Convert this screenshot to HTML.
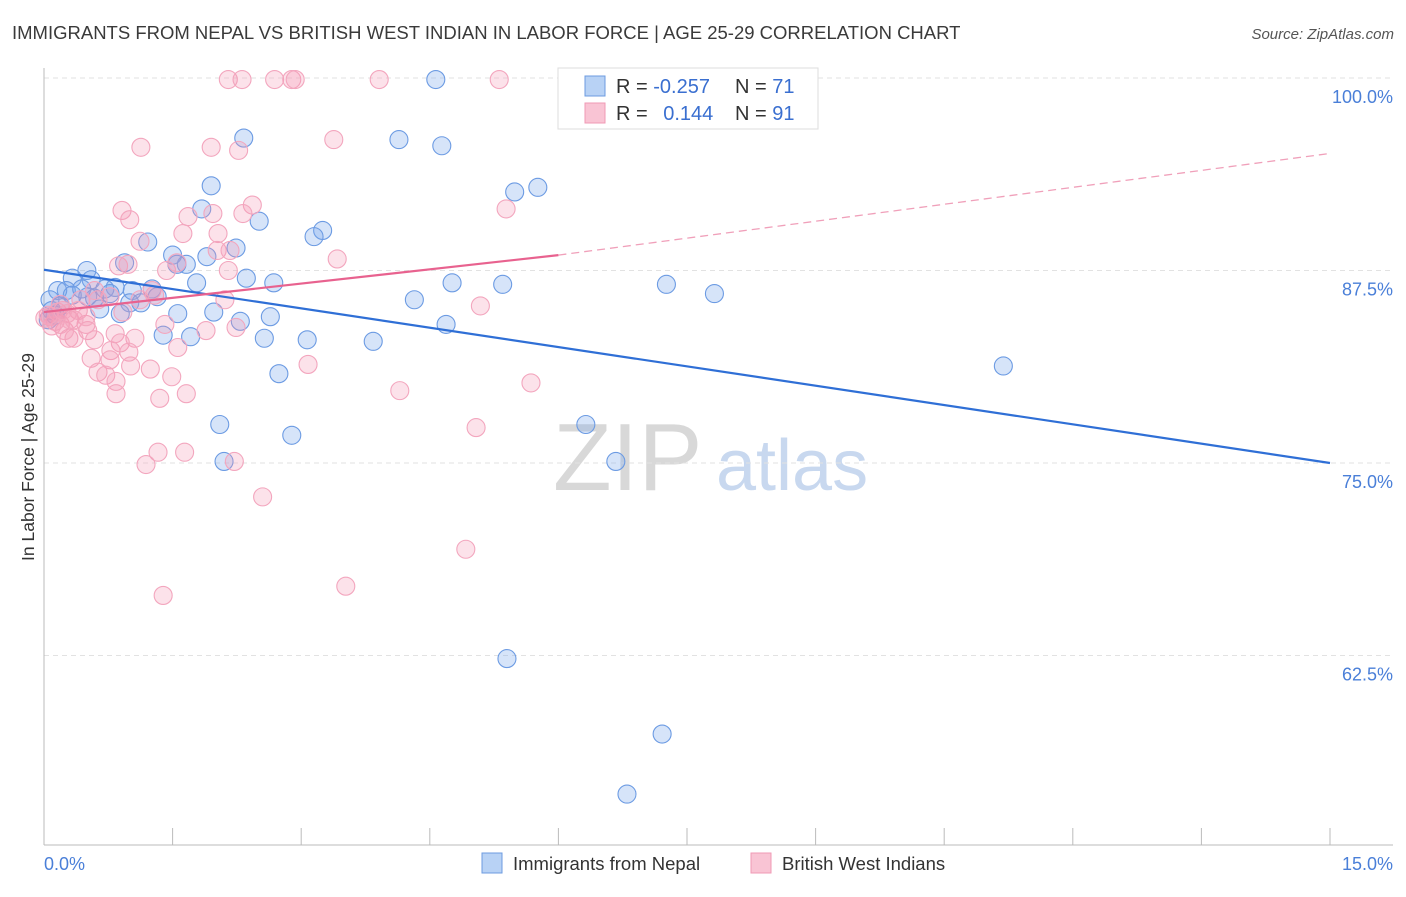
<!DOCTYPE html>
<html><head><meta charset="utf-8"><style>
body{margin:0;background:#fff;font-family:"Liberation Sans",sans-serif;}
svg text{font-family:"Liberation Sans",sans-serif;}
</style></head><body>
<svg id="chart" width="1406" height="892" viewBox="0 0 1406 892" xmlns="http://www.w3.org/2000/svg">
<text x="12" y="39" font-size="18.5" fill="#3a3a3a">IMMIGRANTS FROM NEPAL VS BRITISH WEST INDIAN IN LABOR FORCE | AGE 25-29 CORRELATION CHART</text>
<text x="1394" y="39" font-size="15" fill="#555" font-style="italic" text-anchor="end">Source: ZipAtlas.com</text>
<g>
<text x="553" y="490" font-size="96" fill="#d8d8d8" font-family="Liberation Serif, serif">ZIP</text>
<text x="716" y="490" font-size="72" fill="#c8d8ef">atlas</text>
</g>
<g id="grid"></g>
<g id="axes"></g>
<g id="marks"></g>
<g id="lines"></g>
<text transform="translate(34,457) rotate(-90)" font-size="17.5" fill="#333" text-anchor="middle">In Labor Force | Age 25-29</text>
<text x="44" y="870" font-size="18" fill="#4a7fd8">0.0%</text>
<text x="1393" y="870" font-size="18" fill="#4a7fd8" text-anchor="end">15.0%</text>
<g>
<rect x="558" y="68" width="260" height="61" fill="#fff" stroke="#ddd"/>
<rect x="585" y="76" width="20" height="20" fill="#b8d2f5" stroke="#6c9be0"/>
<rect x="585" y="103" width="20" height="20" fill="#f9c4d4" stroke="#f09ab5"/>
<text x="616" y="93" font-size="20" fill="#333">R = <tspan fill="#3a6fd0">-0.257</tspan></text>
<text x="735" y="93" font-size="20" fill="#333">N = <tspan fill="#3a6fd0">71</tspan></text>
<text x="616" y="120" font-size="20" fill="#333">R = <tspan fill="#3a6fd0" dx="10">0.144</tspan></text>
<text x="735" y="120" font-size="20" fill="#333">N = <tspan fill="#3a6fd0">91</tspan></text>
</g>
<g>
<rect x="482" y="853" width="20" height="20" fill="#b8d2f5" stroke="#6c9be0"/>
<text x="513" y="870" font-size="18.5" fill="#333">Immigrants from Nepal</text>
<rect x="751" y="853" width="20" height="20" fill="#f9c4d4" stroke="#f09ab5"/>
<text x="782" y="870" font-size="18.5" fill="#333">British West Indians</text>
</g>
</svg>
<script>
const yTicks=[100,87.5,75,62.5];
const yTickLabels=["100.0%","87.5%","75.0%","62.5%"];
const xTicks=[0,1.5,3,4.5,6,7.5,9,10.5,12,13.5,15];
const blueX=[6.22,4.57,2.33,4.14,4.64,1.95,5.76,5.49,1.84,2.51,3.25,3.15,1.21,2.24,1.50,1.90,0.94,1.66,1.55,0.50,0.33,0.55,2.36,1.78,2.68,4.76,5.35,7.26,7.82,0.26,0.16,0.83,0.71,1.03,1.26,1.32,0.77,4.32,1.00,1.13,0.65,1.56,1.98,2.64,0.89,2.29,4.69,1.39,1.71,2.57,3.07,3.84,0.07,0.09,0.05,0.19,2.74,11.19,2.05,6.32,2.89,2.10,6.67,5.40,7.21,6.80,0.51,0.33,0.13,0.44,0.59];
const blueY=[99.9,99.9,96.1,96.0,95.6,93.0,92.9,92.6,91.5,90.7,90.1,89.7,89.35,88.96,88.5,88.4,88.0,87.9,87.9,87.5,87.0,86.9,87.0,86.7,86.7,86.7,86.6,86.6,86.0,86.2,86.2,86.4,86.3,86.2,86.3,85.8,86.0,85.6,85.4,85.4,85.0,84.7,84.8,84.5,84.7,84.2,84.0,83.3,83.2,83.1,83.0,82.9,85.6,84.9,84.3,85.2,80.8,81.3,77.5,77.5,76.8,75.1,75.1,62.3,57.4,53.5,85.8,85.9,84.6,86.3,85.7];
const pinkX=[2.15,2.31,2.69,2.89,2.93,3.91,5.31,1.13,1.95,2.27,3.38,2.43,0.91,1.00,1.68,1.97,2.32,5.39,1.12,1.62,2.03,2.02,3.42,0.87,0.98,1.43,2.15,2.17,1.55,1.26,0.77,5.09,0.43,0.63,1.41,0.49,0.51,1.89,2.24,0.83,1.06,0.59,0.29,0.35,0.89,0.78,0.99,1.56,0.55,0.77,3.08,1.01,1.24,0.63,0.72,1.49,0.84,5.68,4.15,0.84,1.35,1.66,5.04,1.33,1.64,1.19,2.22,2.55,4.92,3.52,1.39,0.19,0.24,0.13,0.07,0.30,0.40,0.19,0.49,1.12,1.29,2.11,0.92,0.59,0.09,0.01,0.16,0.27,0.35,0.05,0.22];
const pinkY=[99.9,99.9,99.9,99.9,99.9,99.9,99.9,95.5,95.5,95.3,96.0,91.75,91.4,90.8,91.0,91.2,91.2,91.5,89.4,89.9,89.9,88.8,88.25,87.8,87.9,87.5,87.5,88.8,88.0,86.2,85.8,85.2,85.6,85.6,84.0,84.0,83.6,83.6,83.8,83.4,83.1,83.0,83.1,83.1,82.8,82.3,82.2,82.5,81.8,81.7,81.4,81.3,81.1,80.9,80.7,80.6,80.3,80.2,79.7,79.5,79.2,79.5,77.3,75.7,75.7,74.9,75.1,72.8,69.4,67.0,66.4,84.0,83.6,84.2,84.5,84.3,84.9,85.3,84.5,85.6,85.9,85.6,84.8,86.2,83.9,84.4,84.8,84.7,84.3,84.6,84.9];
const blueTrend=[[0,87.55],[15,75.0]];
const pinkTrendSolid=[[0,84.8],[6,88.5]];
const pinkTrendDash=[[6,88.5],[15,95.1]];
const NS="http://www.w3.org/2000/svg";
function sx(v){return 44+v/15*1286;}
function sy(v){return 78+(100-v)/12.5*192.5;}
function mk(tag,attrs,parent){const e=document.createElementNS(NS,tag);for(const k in attrs)e.setAttribute(k,attrs[k]);document.getElementById(parent).appendChild(e);return e;}
yTicks.forEach((t,i)=>{
  const l=mk('line',{x1:44,x2:1393,y1:sy(t),y2:sy(t),stroke:'#e2e2e2','stroke-dasharray':'5,4'},'grid');
  
  
  const tx=mk('text',{x:1393,y:sy(t)+25,'font-size':18,fill:'#4a7fd8','text-anchor':'end'},'grid');
  tx.textContent=yTickLabels[i];
  
  
});
const ya=mk('line',{x1:44,x2:44,y1:68,y2:845,stroke:'#bbb'},'axes');


const xa=mk('line',{x1:44,x2:1393,y1:845,y2:845,stroke:'#bbb'},'axes');


xTicks.forEach(t=>{
  const l=mk('line',{x1:sx(t),x2:sx(t),y1:828,y2:845,stroke:'#bbb'},'axes');
  
  
});
blueX.forEach((x,i)=>{
  const c=mk('circle',{cx:sx(x),cy:sy(blueY[i]),r:9,fill:'rgba(120,165,235,0.3)',stroke:'#6c9be3','stroke-width':1.1},'marks');
  
  
});
pinkX.forEach((x,i)=>{
  const c=mk('circle',{cx:sx(x),cy:sy(pinkY[i]),r:9,fill:'rgba(245,150,180,0.28)',stroke:'#f3a6be','stroke-width':1.1},'marks');
  
  
});
const bl=mk('line',{x1:sx(blueTrend[0][0]),y1:sy(blueTrend[0][1]),x2:sx(blueTrend[1][0]),y2:sy(blueTrend[1][1]),stroke:'#2f6fd6','stroke-width':2.2},'lines');


const pl=mk('line',{x1:sx(pinkTrendSolid[0][0]),y1:sy(pinkTrendSolid[0][1]),x2:sx(pinkTrendSolid[1][0]),y2:sy(pinkTrendSolid[1][1]),stroke:'#e8628f','stroke-width':2.2},'lines');


const pd=mk('line',{x1:sx(pinkTrendDash[0][0]),y1:sy(pinkTrendDash[0][1]),x2:sx(pinkTrendDash[1][0]),y2:sy(pinkTrendDash[1][1]),stroke:'#f0a0ba','stroke-width':1.3,'stroke-dasharray':'8,5'},'lines');


</script>
</body></html>
